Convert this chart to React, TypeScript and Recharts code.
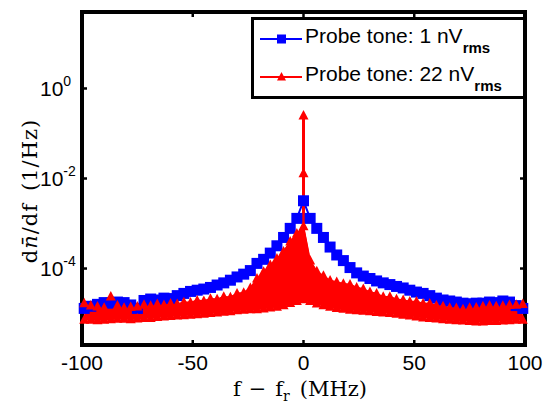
import { ComposedChart, Line, Area, XAxis, YAxis, ReferenceArea, Label } from "recharts";

// frequency offset f - f_r (MHz), one point every 3 MHz
const freq = [
  -99, -96, -93, -90, -87, -84, -81, -78, -75, -72, -69, -66, -63, -60, -57, -54, -51,
  -48, -45, -42, -39, -36, -33, -30, -27, -24, -21, -18, -15, -12, -9, -6, -3, 0,
  3, 6, 9, 12, 15, 18, 21, 24, 27, 30, 33, 36, 39, 42, 45, 48, 51,
  54, 57, 60, 63, 66, 69, 72, 75, 78, 81, 84, 87, 90, 93, 96, 99,
];

// probe tone 1 nVrms
const probe1 = [
  1.3e-5, 1.45e-5, 1.6e-5, 1.75e-5, 1.7e-5, 1.8e-5, 1.75e-5, 1.55e-5, 1.3e-5, 1.95e-5,
  2.1e-5, 2.0e-5, 2.2e-5, 2.15e-5, 2.5e-5, 2.8e-5, 3.1e-5, 3.3e-5, 3.5e-5, 3.8e-5,
  4.3e-5, 4.8e-5, 5.5e-5, 6.5e-5, 7.5e-5, 9.0e-5, 1.3e-4, 1.6e-4, 2.2e-4, 3.2e-4,
  4.9e-4, 7.8e-4, 1.3e-3, 3.2e-3, 1.3e-3, 7.8e-4, 4.9e-4, 3.0e-4, 2.0e-4, 1.5e-4,
  1.05e-4, 8.0e-5, 6.8e-5, 6.0e-5, 5.3e-5, 4.8e-5, 4.4e-5, 4.0e-5, 3.7e-5, 3.3e-5,
  3.0e-5, 2.8e-5, 2.5e-5, 2.2e-5, 2.0e-5, 1.9e-5, 1.8e-5, 1.7e-5, 1.65e-5, 1.7e-5,
  1.7e-5, 1.8e-5, 1.75e-5, 1.9e-5, 1.8e-5, 1.5e-5, 1.3e-5,
];

// probe tone 22 nVrms: noisy trace, kept as its upper / lower envelope
const probe22Hi = [
  1.69e-5, 1.51e-5, 1.44e-5, 1.34e-5, 2.4e-5, 1.51e-5, 1.34e-5, 1.4e-5, 1.44e-5, 1.57e-5,
  1.48e-5, 1.62e-5, 1.55e-5, 1.68e-5, 1.62e-5, 1.79e-5, 1.77e-5, 1.96e-5, 1.9e-5, 2.13e-5,
  2.07e-5, 2.35e-5, 2.3e-5, 2.8e-5, 2.9e-5, 3.7e-5, 6.0e-5, 8.5e-5, 1.2e-4, 1.66e-4,
  2.4e-4, 4.0e-4, 6.0e-4, 8.7e-4, 1.5e-4, 8.7e-5, 6.9e-5, 5.4e-5, 5.0e-5, 4.6e-5,
  4.4e-5, 3.8e-5, 3.5e-5, 3.0e-5, 2.8e-5, 2.35e-5, 2.35e-5, 2.07e-5, 2.0e-5, 1.85e-5,
  1.85e-5, 1.68e-5, 1.68e-5, 1.51e-5, 1.46e-5, 1.34e-5, 1.32e-5, 1.25e-5, 1.34e-5, 1.37e-5,
  1.46e-5, 1.51e-5, 1.46e-5, 1.48e-5, 1.55e-5, 1.57e-5, 1.62e-5,
];
const probe22Lo = [
  7.3e-6, 7.3e-6, 7.1e-6, 7.3e-6, 7.5e-6, 7.65e-6, 7.65e-6, 7.5e-6, 7.8e-6, 8.0e-6,
  8.0e-6, 8.4e-6, 8.55e-6, 8.8e-6, 9.0e-6, 9.2e-6, 9.45e-6, 9.6e-6, 9.9e-6, 1.03e-5,
  1.05e-5, 1.1e-5, 1.13e-5, 1.19e-5, 1.21e-5, 1.24e-5, 1.24e-5, 1.3e-5, 1.36e-5, 1.42e-5,
  1.53e-5, 1.71e-5, 1.89e-5, 2.07e-5, 1.89e-5, 1.67e-5, 1.53e-5, 1.42e-5, 1.33e-5, 1.27e-5,
  1.21e-5, 1.19e-5, 1.16e-5, 1.13e-5, 1.08e-5, 1.05e-5, 1.03e-5, 9.9e-6, 9.45e-6, 9.0e-6,
  8.55e-6, 8.2e-6, 8.0e-6, 7.8e-6, 7.5e-6, 7.3e-6, 7.1e-6, 7.0e-6, 6.85e-6, 6.65e-6,
  6.65e-6, 6.85e-6, 6.85e-6, 7.0e-6, 7.1e-6, 7.3e-6, 7.3e-6,
];

// narrow peak of the 22 nVrms trace at f = f_r
const spikeFreq = [0, 0, 0];
const spikeLevel = [8.7e-4, 1.3e-2, 0.25];

const xTicks = [-100, -50, 0, 50, 100];
const yTicks = [1, 1e-2, 1e-4];
const xDomain = [-100, 100];
const yDomain = [2e-6, 50];

const legendItems = [
  { label: "Probe tone: 1 nV", sub: "rms", color: "#0000ff", marker: "square" },
  { label: "Probe tone: 22 nV", sub: "rms", color: "#ff0000", marker: "triangle" },
];

const W = 543;
const H = 404;
const PLOT = { left: 82, right: 525, top: 12, bottom: 345 };
const BLUE = "#0000ff";
const RED = "#ff0000";
const SANS = '"Liberation Sans", Arial, sans-serif';
const SERIF = '"DejaVu Serif", "Liberation Serif", serif';

const rows = freq.map((f, i) => ({
  f,
  p1: probe1[i],
  hi: probe22Hi[i],
  lo: probe22Lo[i],
}));
const spike = spikeFreq.map((f, i) => ({ f, v: spikeLevel[i] }));

function squareDot(p: any) {
  if (p.cx == null || p.cy == null) return <g key={`s${p.index}`} />;
  return <rect key={`s${p.index}`} x={p.cx - 5.5} y={p.cy - 5.5} width={11} height={11} fill={BLUE} />;
}

function triPoints(cx: number, cy: number, s: number) {
  return `${cx},${cy - s * 1.1} ${cx - s},${cy + s * 0.8} ${cx + s},${cy + s * 0.8}`;
}

function triangleDot(p: any) {
  if (p.cx == null || p.cy == null) return <g key={`t${p.index}`} />;
  return <polygon key={`t${p.index}`} points={triPoints(p.cx, p.cy, 5)} fill={RED} />;
}

function spikeDot(p: any) {
  if (p.cx == null || p.cy == null || p.index === 0) return <g key={`k${p.index}`} />;
  return <polygon key={`k${p.index}`} points={triPoints(p.cx, p.cy, 5)} fill={RED} />;
}

function XTick(props: any) {
  const { x, payload } = props;
  return (
    <g>
      <line x1={x} x2={x} y1={PLOT.bottom} y2={PLOT.bottom - 5} stroke="#000" strokeWidth={2.5} />
      <line x1={x} x2={x} y1={PLOT.top} y2={PLOT.top + 5} stroke="#000" strokeWidth={2.5} />
      <text x={x} y={370} textAnchor="middle" fontSize={21} fontFamily={SANS} fill="#000">
        {payload.value}
      </text>
    </g>
  );
}

function YTick(props: any) {
  const { y, payload } = props;
  const exp = Math.round(Math.log10(payload.value));
  return (
    <g>
      <line x1={PLOT.left} x2={PLOT.left + 5} y1={y} y2={y} stroke="#000" strokeWidth={2.5} />
      <line x1={PLOT.right} x2={PLOT.right - 5} y1={y} y2={y} stroke="#000" strokeWidth={2.5} />
      <text x={40} y={y + 7.5} fontSize={21} fontFamily={SANS} fill="#000">
        10
        <tspan dy={-10} fontSize={14}>
          {exp}
        </tspan>
      </text>
    </g>
  );
}

function XTitle() {
  return (
    <text x={300} y={396} textAnchor="middle" fontSize={21} fontFamily={SERIF} fill="#000">
      f
      <tspan dx={8}>−</tspan>
      <tspan dx={9}>f</tspan>
      <tspan dy={5} fontSize={14}>
        r
      </tspan>
      <tspan dy={-5} dx={10}>
        (MHz)
      </tspan>
    </text>
  );
}

function YTitle() {
  return (
    <text
      x={37}
      y={191}
      transform="rotate(-90 37 191)"
      textAnchor="middle"
      fontSize={21}
      fontFamily={SERIF}
      letterSpacing={1}
      fill="#000"
    >
      d<tspan fontStyle="italic">n̄</tspan>/df
      <tspan dx={12}>(1/Hz)</tspan>
    </text>
  );
}

function LegendBox() {
  return (
    <svg
      width={274}
      height={83}
      style={{ position: "absolute", left: 251, top: 17, overflow: "visible" }}
    >
      <rect x={1.5} y={1.5} width={272} height={79} fill="#fff" stroke="#000" strokeWidth={3} />
      {legendItems.map((it, i) => {
        const y = 22 + i * 38;
        return (
          <g key={it.label}>
            <line x1={9} x2={51} y1={y} y2={y} stroke={it.color} strokeWidth={2} />
            {it.marker === "square" ? (
              <rect x={26} y={y - 4.5} width={9} height={9} fill={it.color} />
            ) : (
              <polygon points={triPoints(30.5, y, 4.5)} fill={it.color} />
            )}
            <text x={54} y={y + 4} fontSize={21} fontFamily={SANS} fill="#000">
              {it.label}
              <tspan dy={10} fontSize={15} fontWeight="bold">
                {it.sub}
              </tspan>
            </text>
          </g>
        );
      })}
    </svg>
  );
}

export default function App() {
  return (
    <div style={{ position: "absolute", left: 0, top: 0, width: W, height: H, background: "#fff" }}>
      <ComposedChart width={W} height={H} data={rows} margin={{ top: PLOT.top, right: W - PLOT.right, bottom: 0, left: 0 }}>
        <XAxis
          type="number"
          dataKey="f"
          domain={xDomain}
          ticks={xTicks}
          interval={0}
          height={H - PLOT.bottom}
          axisLine={false}
          tickLine={false}
          tick={<XTick />}
        >
          <Label content={<XTitle />} />
        </XAxis>
        <YAxis
          type="number"
          scale="log"
          domain={yDomain}
          ticks={yTicks}
          interval={0}
          allowDataOverflow
          width={PLOT.left}
          axisLine={false}
          tickLine={false}
          tick={<YTick />}
        >
          <Label content={<YTitle />} />
        </YAxis>
        <Line
          dataKey="p1"
          stroke={BLUE}
          strokeWidth={2}
          dot={squareDot}
          isAnimationActive={false}
        />
        <Area
          dataKey={(d: any) => [d.lo, d.hi]}
          stroke={RED}
          strokeWidth={1}
          fill={RED}
          fillOpacity={1}
          isAnimationActive={false}
        />
        <Line dataKey="hi" stroke={RED} strokeWidth={1.5} dot={triangleDot} isAnimationActive={false} />
        <Line dataKey="lo" stroke={RED} strokeWidth={1.5} dot={triangleDot} isAnimationActive={false} />
        <Line
          data={spike}
          dataKey="v"
          stroke={RED}
          strokeWidth={3}
          dot={spikeDot}
          isAnimationActive={false}
        />
        <ReferenceArea
          x1={xDomain[0]}
          x2={xDomain[1]}
          y1={yDomain[0]}
          y2={yDomain[1]}
          fill="none"
          stroke="#000"
          strokeWidth={4}
          ifOverflow="visible"
        />
      </ComposedChart>
      <LegendBox />
    </div>
  );
}
